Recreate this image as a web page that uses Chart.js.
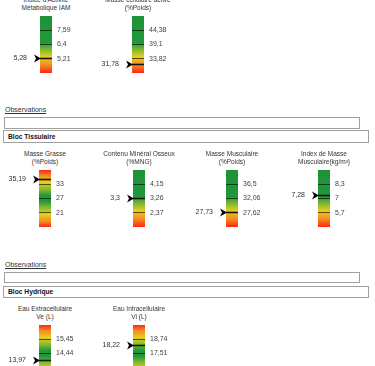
<!DOCTYPE html>
<html>
<head>
<meta charset="utf-8">
<script src="https://cdn.jsdelivr.net/npm/chart.js@4.4.0/dist/chart.umd.min.js"></script>
<style>
  * { box-sizing: border-box; }
  body { margin: 0; width: 375px; height: 366px; overflow: hidden; background: #fff; position: relative;
         font-family: "Liberation Sans", Arial, sans-serif; color: #333; }
  canvas { position: absolute; }
  .ttl { position: absolute; width: 100px; text-align: center; font-size: 6.5px; line-height: 8px; white-space: nowrap; color: #333; }
  .obs { position: absolute; left: 5px; font-size: 7px; line-height: 9px; text-decoration: underline; color: #333; }
  .box { position: absolute; left: 4px; width: 356px; border: 1px solid #a0a0a0; background: #fff; }
  .hdr { position: absolute; left: 3px; width: 366px; border: 1px solid #a0a0a0; background: #fff;
         font-size: 6.7px; font-weight: bold; padding-left: 4px; color: #111; }
</style>
</head>
<body>
<script>
// gauge titles (two lines each)
const names = ["Indice d'Activité", "Masse cellulaire active", "Masse Grasse", "Contenu Minéral Osseux",
               "Masse Musculaire", "Index de Masse", "Eau Extracellulaire", "Eau Intracellulaire"];
const units = ["Métabolique IAM", "(%Poids)", "(%Poids)", "(%MNG)", "(%Poids)", "Musculaire(kg/m²)", "Ve (L)", "Vi (L)"];

// reference limits shown right of each gauge
const limits = [
  [7.59, 6.4, 5.21],
  [44.38, 39.1, 33.82],
  [33, 27, 21],
  [4.15, 3.26, 2.37],
  [36.5, 32.06, 27.62],
  [8.3, 7, 5.7],
  [15.45, 14.44],
  [18.74, 17.51]
];

// measured values (arrow)
const values = [5.28, 31.78, 35.19, 3.3, 27.73, 7.28, 13.97, 18.22];

const sections = ["Bloc Tissulaire", "Bloc Hydrique"];
const obsLabel = "Observations";

// where each gauge bar sits (left, top)
const spots = [[40, 16], [132, 16], [39, 170], [133, 170], [226, 170], [318, 170], [39, 325], [133, 325]];

// colour bands, green on top = low values are bad, mid = both ends bad
const LOW = [[0, '#1d9238'], [0.47, '#22973b'], [0.6, '#86bb2c'], [0.72, '#e5cf1f'], [0.86, '#f78b1f'], [1, '#ff2619']];
const MID = [[0, '#ff2619'], [0.1, '#f78b1f'], [0.22, '#e5cf1f'], [0.34, '#86bb2c'], [0.45, '#22973b'],
             [0.55, '#22973b'], [0.66, '#86bb2c'], [0.78, '#e5cf1f'], [0.9, '#f78b1f'], [1, '#ff2619']];
const bands = [LOW, LOW, MID, LOW, LOW, LOW, MID, MID];

const fmt = v => String(v).replace('.', ',');
const font = { family: "'Liberation Sans', Arial, sans-serif", size: 7 };

// arrow + line at the measured value
const markerPlugin = {
  id: 'marker',
  afterDraw(chart, args, opts) {
    const c = chart.ctx, a = chart.chartArea;
    const y = Math.round(chart.scales.y.getPixelForValue(opts.value)) + 0.5;
    c.save();
    c.strokeStyle = '#151515';
    c.lineWidth = 1.6;
    c.beginPath();
    c.moveTo(a.left, y);
    c.lineTo(a.right, y);
    c.stroke();
    c.fillStyle = '#000';
    c.beginPath();
    c.moveTo(a.left + 1, y);
    c.lineTo(a.left - 6, y - 4);
    c.lineTo(a.left - 4, y);
    c.lineTo(a.left - 6, y + 4);
    c.closePath();
    c.fill();
    c.restore();
  }
};

// fixed axis width, no extra vertical padding from the labels
const fitAxis = s => {
  s.width = 40;
  s.paddingTop = 0;
  s.paddingBottom = 0;
};

function addDiv(cls, txt, css) {
  const d = document.createElement('div');
  d.className = cls;
  d.innerHTML = txt;
  Object.assign(d.style, css);
  document.body.appendChild(d);
}

// observation boxes and section headers
addDiv('obs', obsLabel, { top: '105px' });
addDiv('box', '', { top: '117px', height: '12px' });
addDiv('hdr', sections[0], { top: '130px', height: '13px', lineHeight: '11px' });
addDiv('obs', obsLabel, { top: '260px' });
addDiv('box', '', { top: '272px', height: '11px' });
addDiv('hdr', sections[1], { top: '286px', height: '12px', lineHeight: '10px' });

names.forEach((name, i) => {
  const [bx, by] = spots[i];
  const step = limits[i][0] - limits[i][1];
  const top = limits[i][0] + step;
  const bottom = top - 4 * step;

  addDiv('ttl', name + '<br>' + units[i], { left: (bx + 6 - 50) + 'px', top: (by - 20.5) + 'px' });

  const cv = document.createElement('canvas');
  cv.width = 92;
  cv.height = 73;
  cv.style.left = (bx - 40) + 'px';
  cv.style.top = (by - 8) + 'px';
  document.body.appendChild(cv);

  new Chart(cv, {
    type: 'bar',
    data: {
      labels: [name],
      datasets: [{
        data: [[bottom, top]],
        yAxisID: 'y',
        barPercentage: 1,
        categoryPercentage: 1,
        borderWidth: 0,
        borderSkipped: false,
        backgroundColor: ctx => {
          const a = ctx.chart.chartArea;
          if (!a) return '#22973b';
          const g = ctx.chart.ctx.createLinearGradient(0, a.top, 0, a.bottom);
          bands[i].forEach(s => g.addColorStop(s[0], s[1]));
          return g;
        }
      }]
    },
    options: {
      responsive: false,
      animation: false,
      devicePixelRatio: 1,
      layout: { padding: { top: 8, bottom: 8, left: 0, right: 0 } },
      plugins: {
        legend: { display: false },
        tooltip: { enabled: false },
        marker: { value: values[i] }
      },
      scales: {
        x: { display: false },
        y: {
          type: 'linear',
          position: 'right',
          min: bottom,
          max: top,
          afterFit: fitAxis,
          afterBuildTicks: s => { s.ticks = limits[i].map(v => ({ value: v })); },
          ticks: { autoSkip: false, padding: 5, font: font, color: '#444', callback: v => fmt(v) },
          grid: { color: 'rgba(0,0,0,0.62)', lineWidth: 1, z: 1, drawTicks: false },
          border: { display: false }
        },
        yv: {
          type: 'linear',
          axis: 'y',
          position: 'left',
          min: bottom,
          max: top,
          afterFit: fitAxis,
          afterBuildTicks: s => { s.ticks = [{ value: values[i] }]; },
          ticks: { autoSkip: false, padding: 13, font: font, color: '#333', callback: v => fmt(v) },
          grid: { display: false, drawTicks: false },
          border: { display: false }
        }
      }
    },
    plugins: [markerPlugin]
  });
});
</script>
</body>
</html>
